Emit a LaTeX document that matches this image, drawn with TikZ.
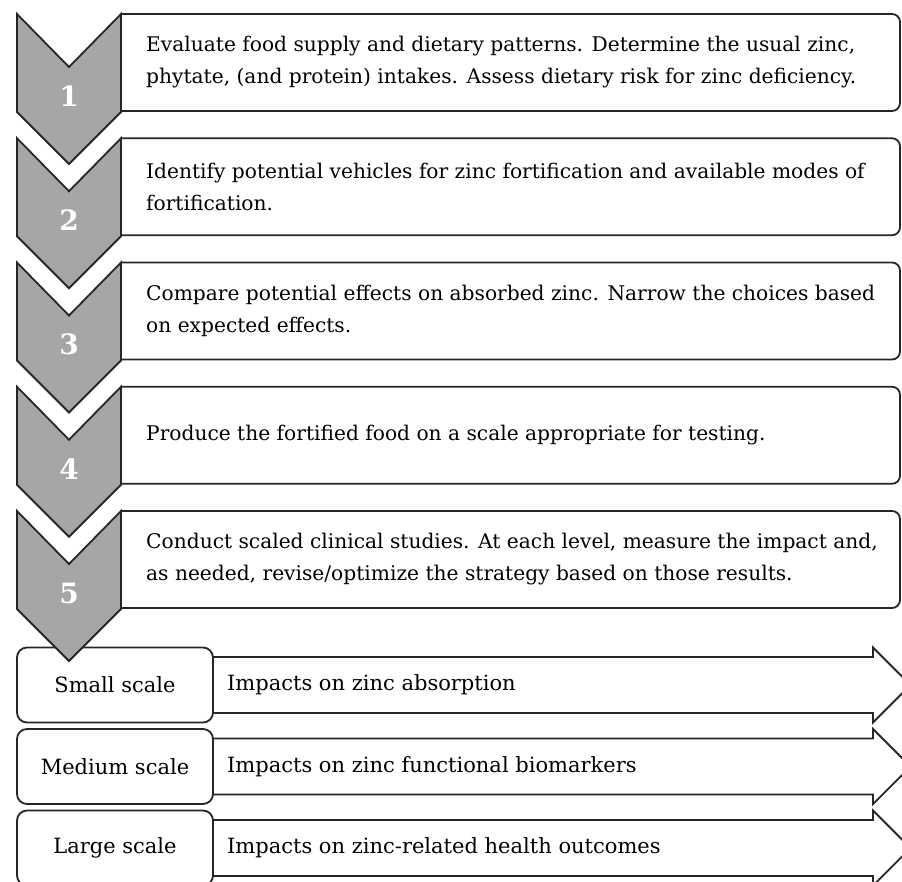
\documentclass[tikz,border=0pt]{standalone}
\usepackage{fontspec}
\setmainfont{DejaVu Serif}

\begin{document}
\begin{tikzpicture}[x=1pt, y=-1pt,
		chev/.style={draw=black!85, line width=1.8pt, fill=black!35, line join=miter},
		stepbox/.style={draw=black!85, line width=1.8pt, rounded corners=8pt},
		stepnum/.style={text=white, font=\fontsize{28}{30}\selectfont\bfseries},
		steptext/.style={anchor=west, align=left, inner sep=0pt, font=\fontsize{20.2}{32}\selectfont},
		scalebox/.style={draw=black!85, line width=1.8pt, rounded corners=10pt, fill=white,
			minimum width=196pt, minimum height=75pt, font=\fontsize{21}{24}\selectfont},
		impact/.style={draw=black!85, line width=1.8pt, fill=white, line join=miter},
		impacttext/.style={anchor=west, inner sep=0pt, font=\fontsize{21}{24}\selectfont}]
		\clip (0,0) rectangle (902,881);
		
		% --- Scales of the clinical studies ---
		\foreach \j/\name/\lbl/\imp in {0/small/Small scale/Impacts on zinc absorption,
			1/medium/Medium scale/Impacts on zinc functional biomarkers,
			2/large/Large scale/Impacts on zinc-related health outcomes}{
			\pgfmathsetmacro\yc{685+81.5*\j}
			% Arrow behind the scale box
			\draw[impact] (213,\yc-28) -- (873,\yc-28) -- (873,\yc-37.5) -- (910.5,\yc)
				-- (873,\yc+37.5) -- (873,\yc+28) -- (213,\yc+28) -- cycle;
			\node[scalebox] (\name) at (115,\yc) {\lbl};
			\node[impacttext] (\name-imp) at (227,\yc) {\imp};
		}
		
		% --- Steps 1 to 5 ---
		\foreach \i/\txt in {1/{Evaluate food supply and dietary patterns. Determine the usual zinc,\\phytate, (and protein) intakes. Assess dietary risk for zinc deficiency.},
			2/{Identify potential vehicles for zinc fortification and available modes of\\fortification.},
			3/{Compare potential effects on absorbed zinc. Narrow the choices based\\on expected effects.},
			4/{Produce the fortified food on a scale appropriate for testing.},
			5/{Conduct scaled clinical studies. At each level, measure the impact and,\\as needed, revise/optimize the strategy based on those results.}}{
			\pgfmathsetmacro\yt{14+124.25*(\i-1)}
			% Text box, rounded on the right only
			\draw[stepbox] (121,\yt) -- (900,\yt) -- (900,\yt+97) -- (121,\yt+97);
			\node[steptext] (t\i) at (146,\yt+48.5) {\txt};
			% Chevron with the step number
			\draw[chev] (17,\yt) -- (69,\yt+53) -- (121,\yt) -- (121,\yt+98)
				-- (69,\yt+150) -- (17,\yt+98) -- cycle;
			\node[stepnum] (n\i) at (69,\yt+82) {\i};
		}
		
	\end{tikzpicture}
\end{document}
